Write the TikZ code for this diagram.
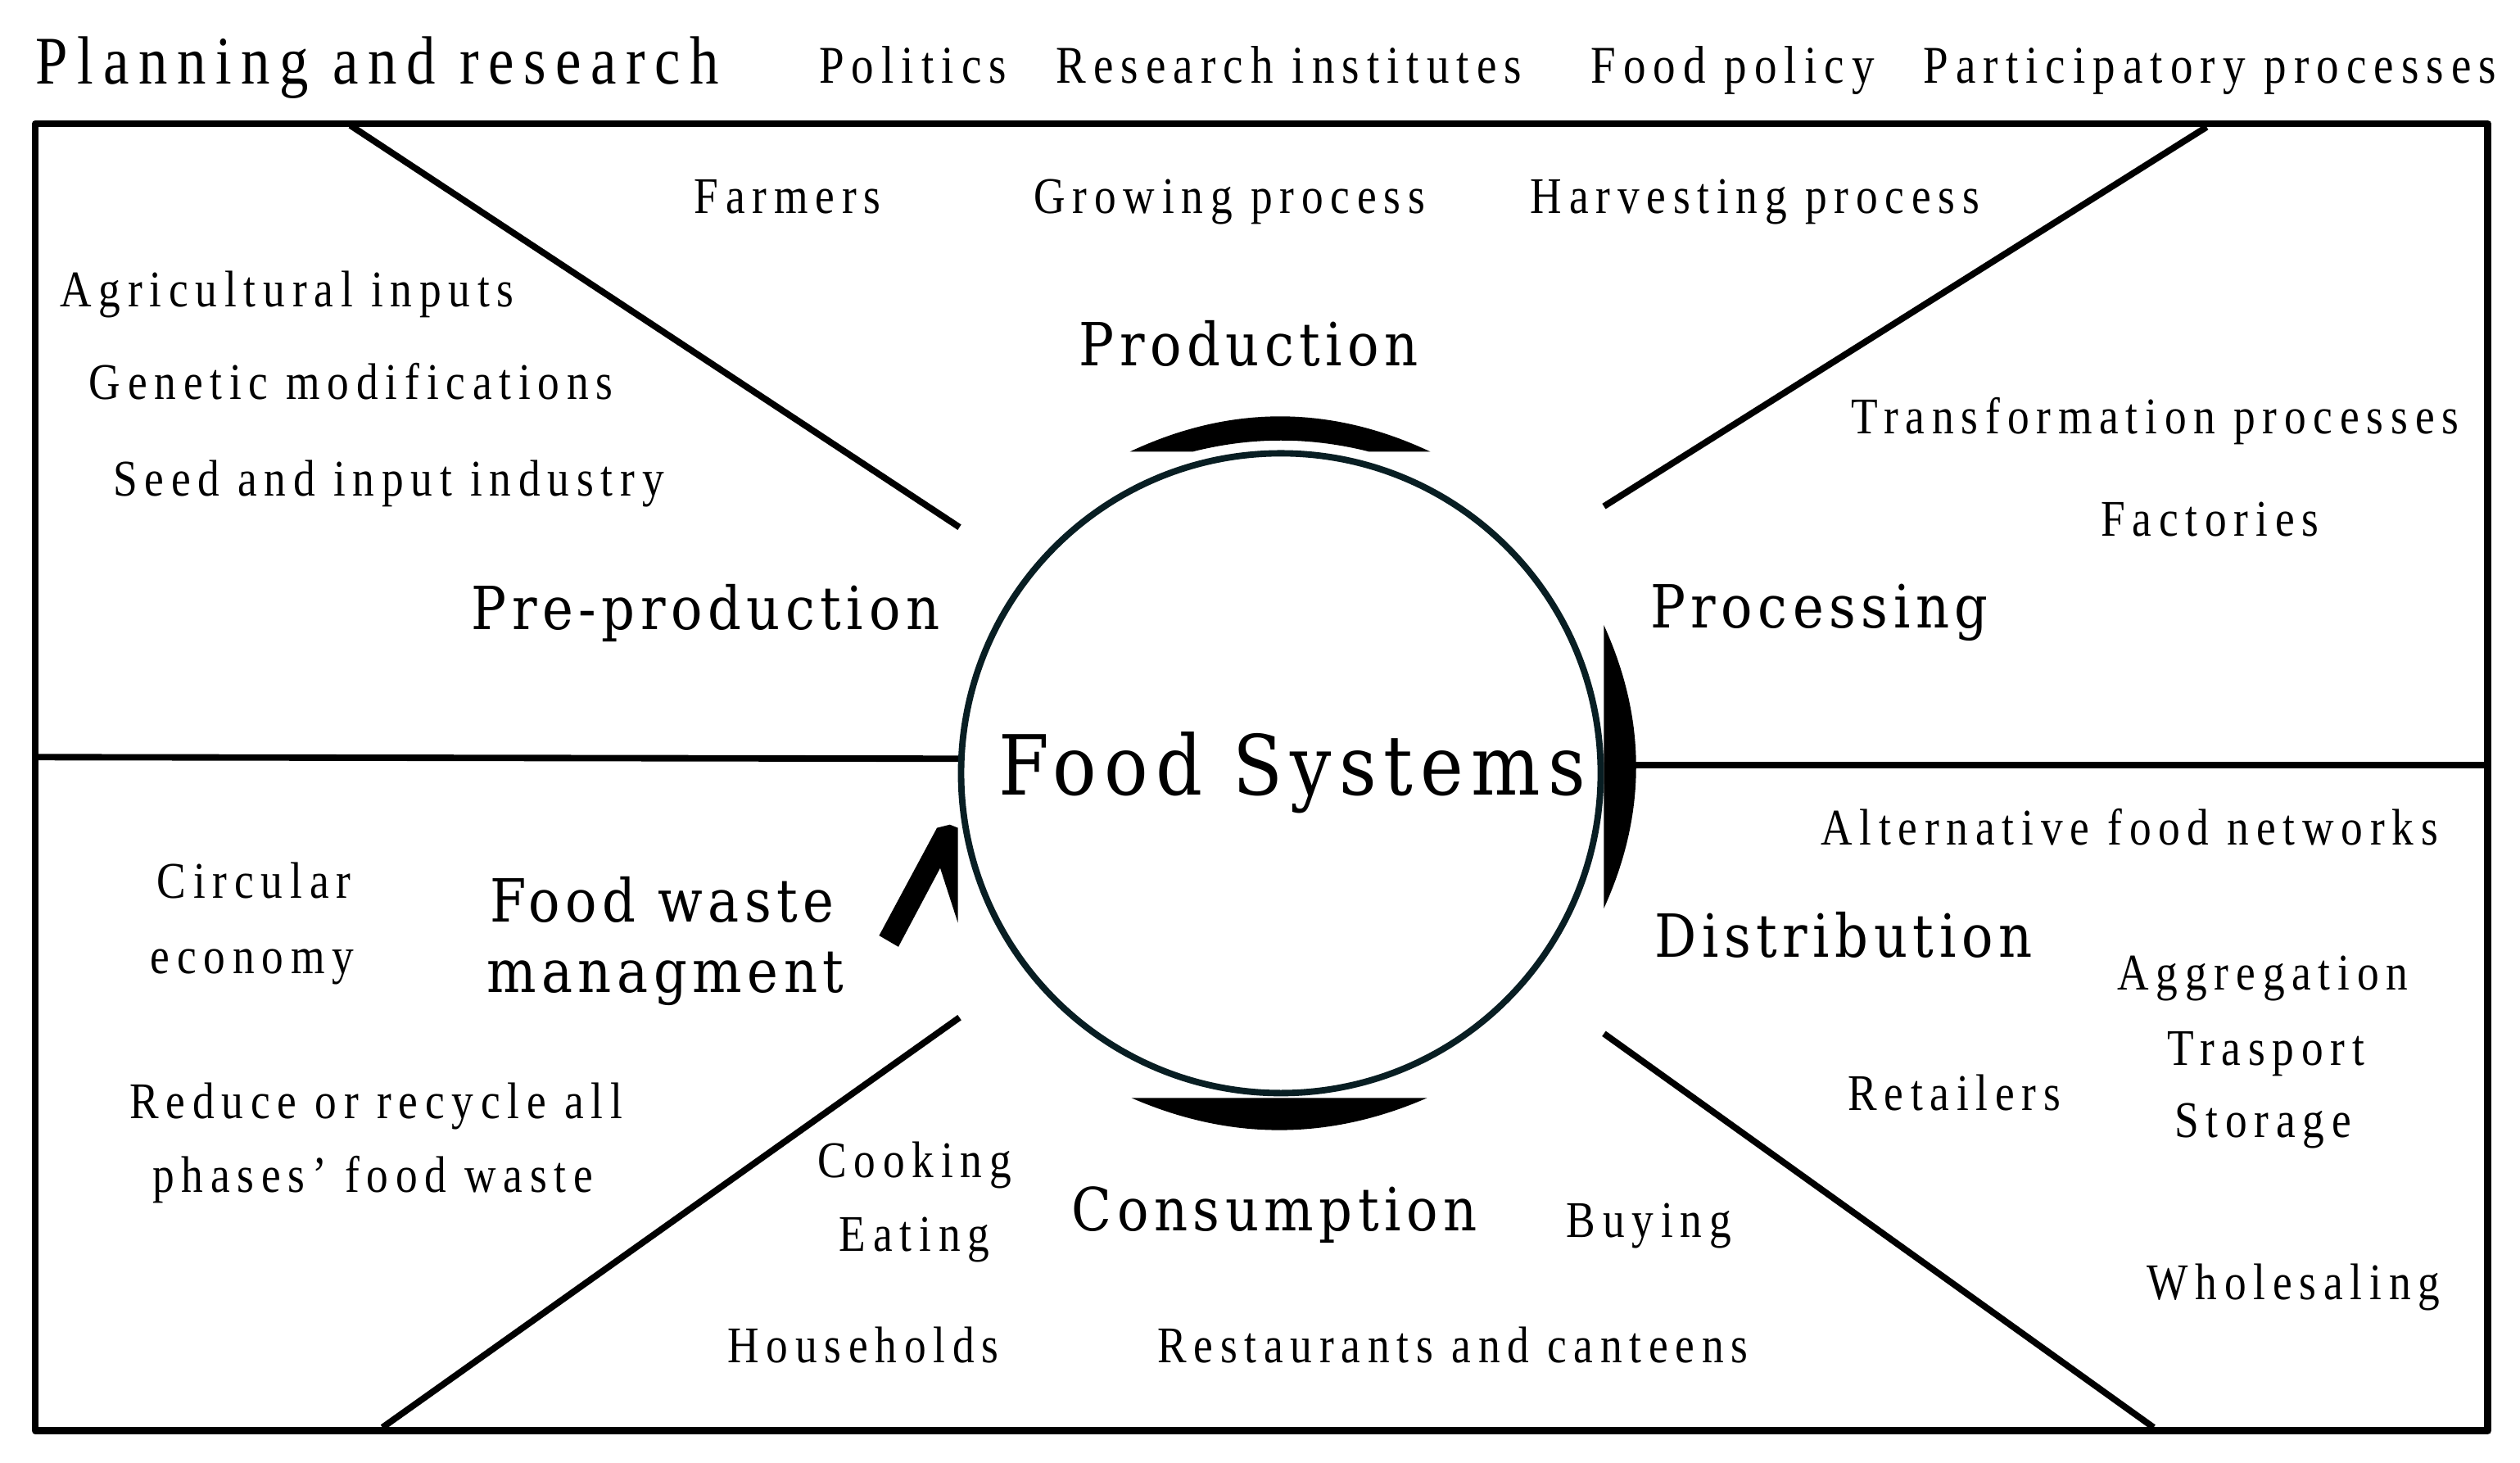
\documentclass[tikz,border=0pt]{standalone}
\usepackage{fontspec}
\setmainfont{Liberation Serif}
\newfontfamily\labf[FakeStretch=0.85,LetterSpace=14]{Liberation Serif}
\newfontfamily\hdf[FakeStretch=0.88,LetterSpace=9]{DejaVu Serif}
\definecolor{ring}{RGB}{8,30,35}
\begin{document}
\begin{tikzpicture}[x=0.5pt,y=-0.5pt,line join=round]
\tikzset{
  lab/.style={font=\labf\fontsize{16}{19}\selectfont,inner sep=0pt,text height=10.6pt,text depth=0pt},
  toplab/.style={font=\labf\fontsize{16.5}{20}\selectfont,inner sep=0pt,text height=10.9pt,text depth=0pt},
  titlelab/.style={font=\labf\fontsize{21.2}{25}\selectfont,inner sep=0pt,text height=14pt,text depth=0pt},
  hd/.style={font=\hdf\fontsize{18.5}{22}\selectfont,inner sep=0pt,text height=13.5pt,text depth=0pt},
  bigtitle/.style={font=\hdf\fontsize{25.8}{30}\selectfont,inner sep=0pt,text height=18.8pt,text depth=0pt},
  frame/.style={line width=2.2pt,black},
  divider/.style={line width=2pt,black},
  crescent/.style={fill=black},
}
\useasboundingbox (0,0) rectangle (1568,910);
\fill[white] (0,0) rectangle (1568,910);

% outer frame
\coordinate (b1) at (22,77);
\coordinate (b2) at (1548,77);
\coordinate (b3) at (1548,890);
\coordinate (b4) at (22,890);
\draw[frame] (b1) -- (b2) -- (b3) -- (b4) -- cycle;

% dividers
\coordinate (tlA) at (218,78);   \coordinate (tlB) at (597,328);
\coordinate (trA) at (1373,79);  \coordinate (trB) at (998,315);
\coordinate (lA) at (24,471);    \coordinate (lB) at (597,472);
\coordinate (rA) at (1015,476);  \coordinate (rB) at (1547,476);
\coordinate (blA) at (238,888);  \coordinate (blB) at (597,633);
\coordinate (brA) at (998,643);  \coordinate (brB) at (1340,888);
\draw[divider] (tlA) -- (tlB);
\draw[divider] (trA) -- (trB);
\draw[divider] (lA) -- (lB);
\draw[divider] (rA) -- (rB);
\draw[divider] (blA) -- (blB);
\draw[divider] (brA) -- (brB);

% central circle
\node[circle,draw=ring,line width=2pt,minimum size=199pt,inner sep=0pt] (ring) at (797,481) {};
\node[bigtitle] (fs) at (804,476) {Food Systems};

% crescents
\fill[crescent] (703,281) .. controls (765.3,251.7) and (827.7,251.7) .. (890,281)
  -- (852,281) .. controls (815.3,271.7) and (778.7,271.7) .. (742,281) -- cycle;
\fill[crescent] (704,683) -- (888,683) .. controls (826.7,709.7) and (765.3,709.7) .. (704,683) -- cycle;
\fill[crescent] (998,389) .. controls (1024.7,447.7) and (1024.7,506.3) .. (998,565) -- cycle;
\fill[crescent] (547,582) -- (583,515) -- (591,513) -- (596,515) -- (596,574) -- (585,540) -- (559,589) -- cycle;

% header
\node[titlelab,anchor=west] (title) at (22,38) {Planning and research};
\node[toplab] (pol) at (568,41) {Politics};
\node[toplab] (ri) at (802,41) {Research institutes};
\node[toplab] (fp) at (1078,41) {Food policy};
\node[toplab] (pp) at (1375,41) {Participatory processes};

% production
\node[lab] (farm) at (490,122) {Farmers};
\node[lab] (grow) at (765,122) {Growing process};
\node[lab] (harv) at (1092,122) {Harvesting process};
\node[hd] (prod) at (777,214) {Production};

% pre-production
\node[lab,anchor=west] (agri) at (37,180) {Agricultural inputs};
\node[lab,anchor=west] (gen) at (55,238) {Genetic modifications};
\node[lab,anchor=west] (seed) at (70,298) {Seed and input industry};
\node[hd] (pre) at (439,378) {Pre-production};

% processing
\node[lab] (trans) at (1341,259) {Transformation processes};
\node[lab] (fact) at (1375,323) {Factories};
\node[hd] (proc) at (1132,377) {Processing};

% distribution
\node[lab] (alt) at (1325,515) {Alternative food networks};
\node[hd] (dist) at (1147,582) {Distribution};
\node[lab] (aggr) at (1408,605) {Aggregation};
\node[lab] (trsp) at (1410,652) {Trasport};
\node[lab] (stor) at (1408,697) {Storage};
\node[lab] (ret) at (1216,680) {Retailers};
\node[lab] (whole) at (1427,798) {Wholesaling};

% food waste
\node[lab] (circ) at (158,548) {Circular};
\node[lab] (econ) at (157,595) {economy};
\node[hd] (fw1) at (412,560) {Food waste};
\node[hd] (fw2) at (414,604) {managment};
\node[lab] (red1) at (234,685) {Reduce or recycle all};
\node[lab] (red2) at (232,731) {phases’ food waste};

% consumption
\node[lab] (cook) at (569,722) {Cooking};
\node[lab] (eat) at (569,768) {Eating};
\node[hd] (cons) at (793,752) {Consumption};
\node[lab] (buy) at (1026,759) {Buying};
\node[lab] (house) at (537,837) {Households};
\node[lab] (rest) at (904,837) {Restaurants and canteens};
\end{tikzpicture}
\end{document}
